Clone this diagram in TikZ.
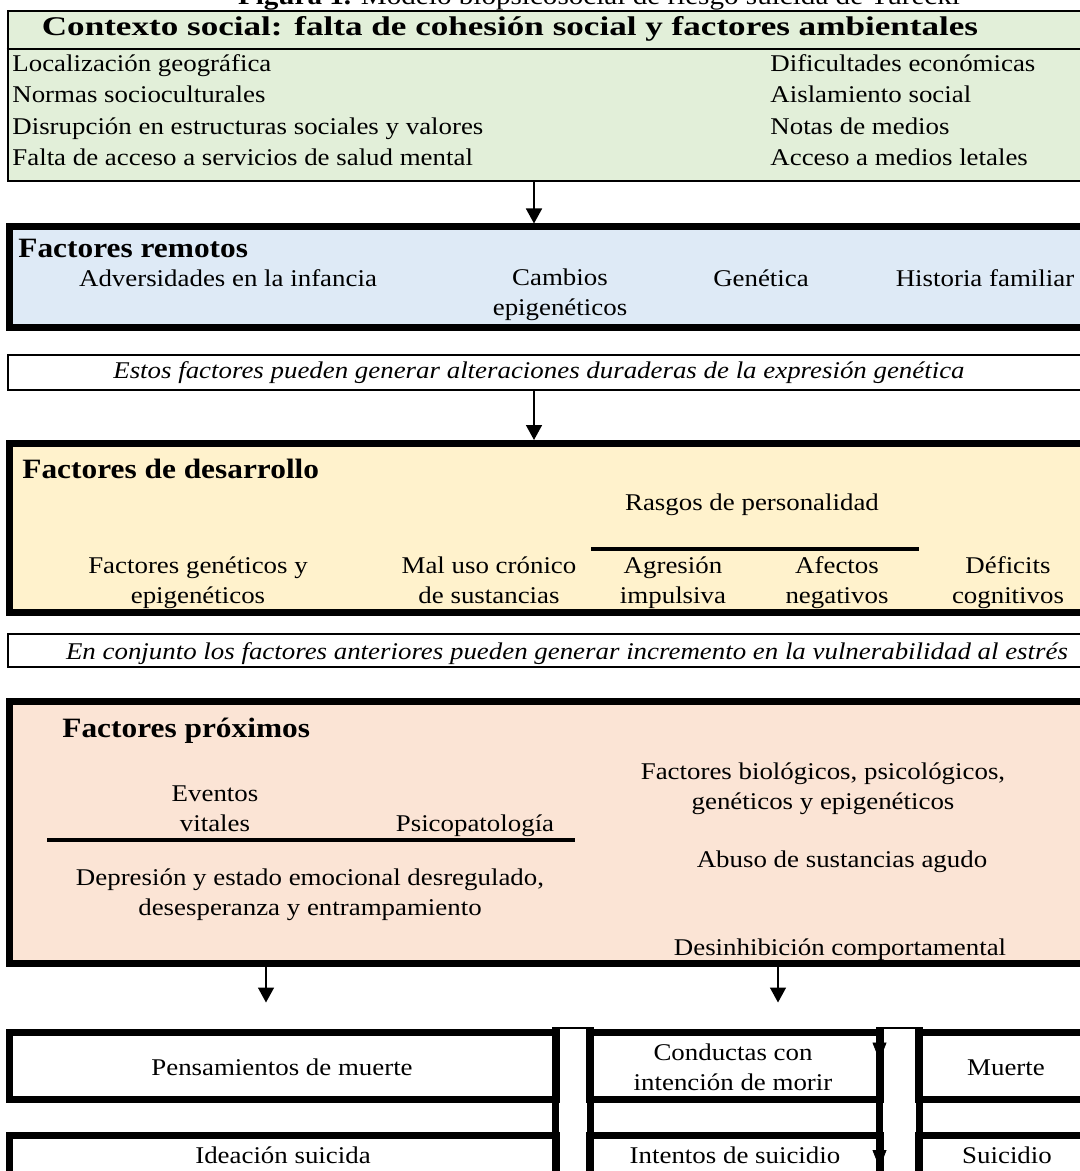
\documentclass[tikz,border=0pt]{standalone}
\usepackage{fontspec}
\setmainfont[FakeStretch=1.12]{Liberation Serif}
\newfontfamily\headfont[FakeStretch=1.3]{Liberation Serif}
\usetikzlibrary{arrows.meta,fit}
\definecolor{ctxgreen}{HTML}{E2EFD9}
\definecolor{remblue}{HTML}{DEEAF6}
\definecolor{devyellow}{HTML}{FFF2CC}
\definecolor{proxpeach}{HTML}{FBE4D5}
\begin{document}
\begin{tikzpicture}[x=0.5pt,y=-0.5pt,>={Triangle[width=8pt,length=7.5pt]},
 font=\fontsize{12}{15}\selectfont,
 box/.style={draw,inner sep=0pt,line width=3.5pt},
 thinbox/.style={draw,inner sep=0pt,line width=1pt},
 txt/.style={anchor=base,inner sep=0pt,align=center},
 lft/.style={anchor=base west,inner sep=0pt},
 head/.style={anchor=base west,inner sep=0pt,font=\fontsize{14}{16}\selectfont\bfseries},
 note/.style={anchor=base,inner sep=0pt,font=\fontsize{12}{15}\selectfont\itshape},
 arr/.style={->,line width=0.8pt},
 tk/.style={line width=3.5pt},
 bar/.style={line width=2pt}]
\useasboundingbox (0,0) rectangle (1080,1171);
% title (cut at the top)
\node[anchor=base,inner sep=0pt,font=\fontsize{13}{15}\selectfont] (title) at (599,5) {\textbf{Figura 1.} Modelo biopsicosocial de riesgo suicida de Turecki};
% contexto social
\node[thinbox,fill=ctxgreen,fit={(7.5,11) (1090,181)}] (ctx) {};
\draw[line width=1pt] (ctx.west |- 0,49) -- (ctx.east |- 0,49);
\node[anchor=base,inner sep=0pt,font=\fontsize{13.5}{16}\headfont\bfseries] (ctxhead) at (510,36) {Contexto social: falta de cohesión social y factores ambientales};
\foreach \t [count=\i] in {Localización geográfica,Normas socioculturales,Disrupción en estructuras sociales y valores,Falta de acceso a servicios de salud mental}
  \node[lft] (ctxl\i) at (12,{39.5+31.6*\i}) {\t};
\foreach \t [count=\i] in {Dificultades económicas,Aislamiento social,Notas de medios,Acceso a medios letales}
  \node[lft] (ctxr\i) at (770,{39.5+31.6*\i}) {\t};
% factores remotos
\node[box,fill=remblue,fit={(9,227) (1090,328)}] (rem) {};
\draw[arr] (ctx.south -| 534,0) -- (rem.north -| 534,0);
\node[head] (remhead) at (18,258) {Factores remotos};
\node[txt] (rem1) at (228,287) {Adversidades en la infancia};
\node[txt] (rem2) at (560,316) {Cambios\\epigenéticos};
\node[txt] (rem3) at (761,287) {Genética};
\node[txt] (rem4) at (985,287) {Historia familiar};
\node[thinbox,fit={(8,355) (1090,390)}] (note1) {};
\node[note] (note1t) at (539,379) {Estos factores pueden generar alteraciones duraderas de la expresión genética};
% factores de desarrollo
\node[box,fill=devyellow,fit={(9,443.5) (1090,612)}] (dev) {};
\draw[arr] (note1.south -| 534,0) -- (dev.north -| 534,0);
\node[head] (devhead) at (22,478) {Factores de desarrollo};
\node[txt] (rasgos) at (752,510) {Rasgos de personalidad};
\draw[bar] (591,549) -- (919,549);
\node[txt] (dev1) at (198,603) {Factores genéticos y\\epigenéticos};
\node[txt] (dev2) at (489,603) {Mal uso crónico\\de sustancias};
\node[txt] (dev3) at (673,603) {Agresión\\impulsiva};
\node[txt] (dev4) at (837,603) {Afectos\\negativos};
\node[txt] (dev5) at (1008,603) {Déficits\\cognitivos};
\node[thinbox,fit={(8,634) (1090,667)}] (note2) {};
\node[note] (note2t) at (567,659) {En conjunto los factores anteriores pueden generar incremento en la vulnerabilidad al estrés};
% factores proximos
\node[box,fill=proxpeach,fit={(9,701.5) (1090,963.5)}] (prox) {};
\node[head] (proxhead) at (62,737) {Factores próximos};
\node[txt] (evt) at (215,831) {Eventos\\vitales};
\node[txt] (psico) at (475,831) {Psicopatología};
\draw[bar] (47,840) -- (575,840);
\node[txt] (depr) at (310,915) {Depresión y estado emocional desregulado,\\desesperanza y entrampamiento};
\node[txt] (bio) at (823,809) {Factores biológicos, psicológicos,\\genéticos y epigenéticos};
\node[txt] (abuso) at (842,867) {Abuso de sustancias agudo};
\node[txt] (desinh) at (840,955) {Desinhibición comportamental};
% resultados
\node[box,fit={(9,1032) (556,1099)}] (pens) {};
\node[box,fit={(589,1032) (880,1099)}] (cond) {};
\node[box,fit={(918.5,1032) (1090,1099)}] (muer) {};
\node[box,fit={(9,1135.5) (556,1200)}] (idea) {};
\node[box,fit={(589,1135.5) (880,1200)}] (inte) {};
\node[box,fit={(918.5,1135.5) (1090,1200)}] (suic) {};
\node[thinbox,fit={(556,1028) (589,1200)}] (gapa) {};
\node[thinbox,fit={(880,1028) (918.5,1200)}] (gapb) {};
\foreach \g in {gapa,gapb} {
  \draw[tk] (\g.north west) -- (\g.south west);
  \draw[tk] (\g.north east) -- (\g.south east);
}
\draw[arr,shorten >=13pt] (prox.south -| 266,0) -- (pens.north -| 266,0);
\draw[arr,shorten >=13pt] (prox.south -| 778,0) -- (cond.north -| 778,0);
\draw[->,>={Triangle[width=7pt,length=9pt]}] ([xshift=-2pt]cond.north east) -- ([xshift=-2pt,yshift=-16pt]cond.north east);
\draw[->,>={Triangle[width=7pt,length=9pt]}] ([xshift=-2pt]inte.north east) -- ([xshift=-2pt,yshift=-18pt]inte.north east);
\node[txt] (pensT) at (282,1075) {Pensamientos de muerte};
\node[txt] (condT) at (733,1090) {Conductas con\\intención de morir};
\node[txt] (muerT) at (1006,1075) {Muerte};
\node[txt] (ideaT) at (283,1163) {Ideación suicida};
\node[txt] (inteT) at (735,1163) {Intentos de suicidio};
\node[txt] (suicT) at (1007,1163) {Suicidio};
\end{tikzpicture}
\end{document}
